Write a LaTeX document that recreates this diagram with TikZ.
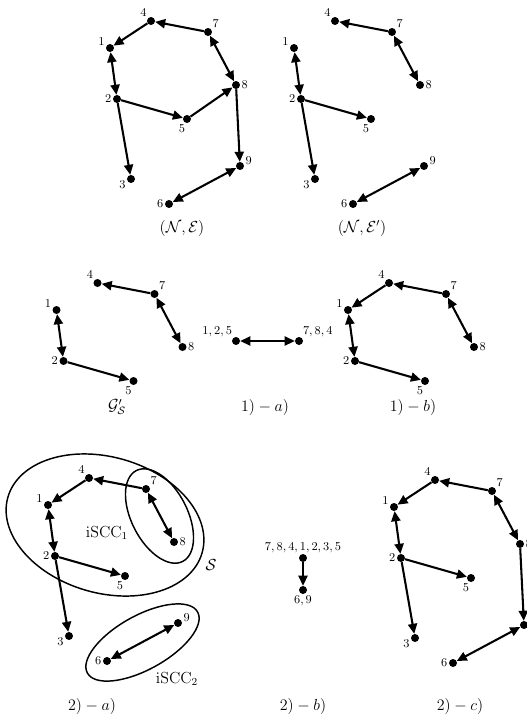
\documentclass[tikz,border=0pt]{standalone}
\usetikzlibrary{arrows.meta}
\newcommand\nodesall{1/110/48/160,2/117/99/180,3/131/179/190,4/151/21/135,5/187/119/262,6/169/204/180,7/208/32/40,8/236/85/0,9/240/166/5}
\newcommand\nodessub{1/110/48/160,2/117/99/180,4/151/21/135,5/187/119/262,7/208/32/40,8/236/85/0}
\newcommand\placegraph[4]{%
  \begin{scope}[shift={(#2,#3)}]
    \foreach \n/\x/\y/\a in #4 {\node[dot,label={[lbl]\a:$\n$}] (#1\n) at (\x,\y) {};}
  \end{scope}}
\begin{document}
\begin{tikzpicture}[x=0.75pt,y=-0.75pt,
  dot/.style={circle,fill=black,inner sep=0pt,minimum size=6pt},
  lbl/.style={font=\small,inner sep=0.8pt,label distance=0pt},
  edge/.style={line width=1.55pt},
  >={Triangle[length=7.5pt,width=6.8pt]},
  captxt/.style={font=\large,inner sep=1pt},
  ring/.style={line width=1.1pt}]
\useasboundingbox (0,0) rectangle (527,717);

% (N,E)
\placegraph{A}{0}{0}{\nodesall}
\foreach \p/\q in {7/4,4/1,2/5,5/8,2/3,8/9} \draw[edge,->] (A\p) -- (A\q);
\foreach \p/\q in {1/2,7/8,6/9} \draw[edge,<->] (A\p) -- (A\q);
\node[captxt] (capA) at (182,228) {$(\mathcal{N},\mathcal{E})$};

% (N,E')
\placegraph{B}{184}{0}{\nodesall}
\foreach \p/\q in {7/4,2/5,2/3} \draw[edge,->] (B\p) -- (B\q);
\foreach \p/\q in {1/2,7/8,6/9} \draw[edge,<->] (B\p) -- (B\q);
\node[captxt] (capB) at (362,228) {$(\mathcal{N},\mathcal{E}')$};

% G'_S
\placegraph{C}{-53.5}{262}{\nodessub}
\foreach \p/\q in {7/4,2/5} \draw[edge,->] (C\p) -- (C\q);
\foreach \p/\q in {1/2,7/8} \draw[edge,<->] (C\p) -- (C\q);
\node[captxt] (capC) at (117,407) {$\mathcal{G}'_{\mathcal{S}}$};

% 1)-a)
\node[dot,label={[lbl]130:$1,2,5$}] (D1) at (236,341) {};
\node[dot,label={[lbl]50:$7,8,4$}] (D2) at (299,341) {};
\draw[edge,<->] (D1) -- (D2);
\node[captxt] (capD) at (265,407) {$1)-a)$};

% 1)-b)
\placegraph{E}{238}{262}{\nodessub}
\foreach \p/\q in {7/4,4/1,2/5} \draw[edge,->] (E\p) -- (E\q);
\foreach \p/\q in {1/2,7/8} \draw[edge,<->] (E\p) -- (E\q);
\node[captxt] (capE) at (413,407) {$1)-b)$};

% 2)-a)
\placegraph{F}{-62}{457}{\nodesall}
\foreach \p/\q in {7/4,4/1,2/5,2/3} \draw[edge,->] (F\p) -- (F\q);
\foreach \p/\q in {1/2,7/8,6/9} \draw[edge,<->] (F\p) -- (F\q);
\draw[ring,rotate around={-16:(105,525)}] (105,525) ellipse [x radius=101,y radius=68];
\draw[ring,rotate around={-63:(159.5,516)}] (159.5,516) ellipse [x radius=51,y radius=28];
\draw[ring,rotate around={29:(142.5,642.5)}] (142.5,642.5) ellipse [x radius=63,y radius=27];
\node[captxt] (lblS) at (211,565) {$\mathcal{S}$};
\node[captxt] (lblI1) at (107,533) {$\mathrm{iSCC}_1$};
\node[captxt] (lblI2) at (177,679) {$\mathrm{iSCC}_2$};
\node[captxt] (capF) at (92,706) {$2)-a)$};

% 2)-b)
\node[dot,label={[lbl]90:$7,8,4,1,2,3,5$}] (G1) at (303,558) {};
\node[dot,label={[lbl]270:$6,9$}] (G2) at (303,590) {};
\draw[edge,->] (G1) -- (G2);
\node[captxt] (capG) at (303,706) {$2)-b)$};

% 2)-c)
\placegraph{H}{284}{459}{\nodesall}
\foreach \p/\q in {7/4,4/1,2/5,2/3,8/9} \draw[edge,->] (H\p) -- (H\q);
\foreach \p/\q in {1/2,7/8,6/9} \draw[edge,<->] (H\p) -- (H\q);
\node[captxt] (capH) at (460,706) {$2)-c)$};
\end{tikzpicture}
\end{document}
